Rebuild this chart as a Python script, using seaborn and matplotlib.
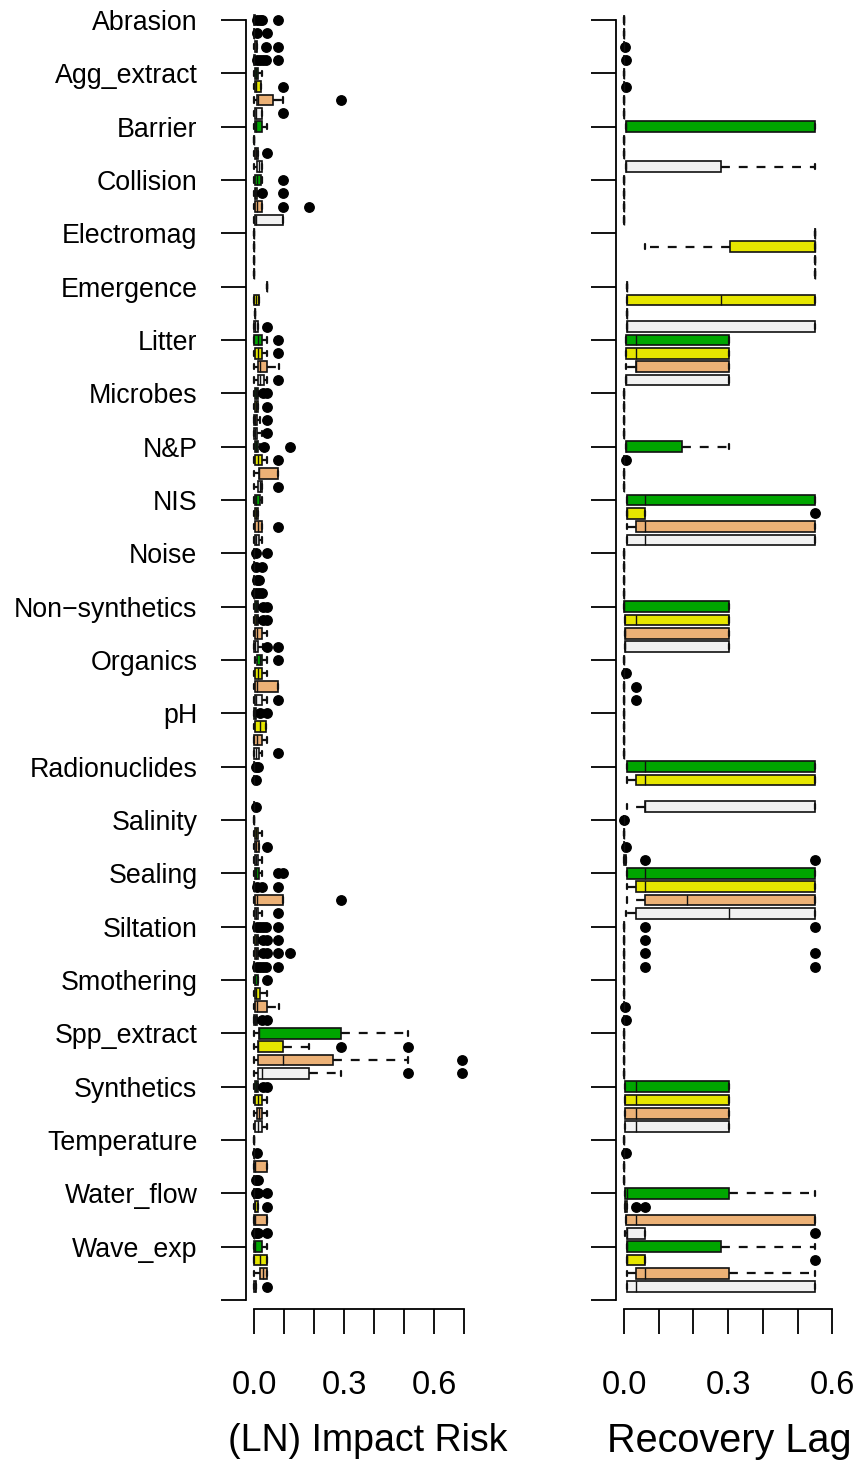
import numpy as np
import pandas as pd
import seaborn as sns
import matplotlib.pyplot as plt

# -------------------- data -------------------- #

categories = ["Abrasion", "Agg_extract", "Barrier", "Collision", "Electromag",
              "Emergence", "Litter", "Microbes", "N&P", "NIS", "Noise",
              "Non\u2212synthetics", "Organics", "pH", "Radionuclides", "Salinity",
              "Sealing", "Siltation", "Smothering", "Spp_extract", "Synthetics",
              "Temperature", "Water_flow", "Wave_exp"]
groups = ["Group 1", "Group 2", "Group 3", "Group 4"]
group_colors = ["#00A600", "#E6E600", "#ECB176", "#F2F2F2"]
risk_ticks = [0.0, 0.1, 0.2, 0.3, 0.4, 0.5, 0.6, 0.7]
lag_ticks = [0.0, 0.1, 0.2, 0.3, 0.4, 0.5, 0.6]

# (LN) Impact Risk: box summaries, 4 groups per category (None = no box)
risk_lo = [0, 0, 0, 0,  0, 0, 0, 0,  0, 0, 0, 0,  0, 0, 0, 0,
           0, 0, 0, 0,  0.042, 0, 0.004, 0,  0, 0, 0, 0,  0, 0, 0, 0,
           0, 0, 0, 0,  0, 0, 0, 0,  0, 0, 0, 0,  0, 0, 0, 0,
           0.003, 0, 0, 0,  0, 0, 0, 0,  0, 0, None, 0,  0, 0, 0, 0,
           0, 0, 0, 0,  0, 0, 0, 0,  0, 0, 0, 0,  0, 0, 0, 0,
           0, 0, 0, 0,  0, 0, 0, 0,  0, 0, 0, 0,  0, 0, 0, 0]
risk_q1 = [0, 0, 0.003, 0,  0.003, 0.004, 0.011, 0.004,  0.003, 0, 0.003, 0.011,  0.004, 0.003, 0.004, 0.004,
           0, 0, 0, 0,  0.042, 0, 0.004, 0,  0, 0.002, 0.013, 0.014,  0.002, 0.002, 0, 0,
           0.003, 0.003, 0.015, 0.013,  0.004, 0.004, 0.002, 0.004,  0, 0, 0, 0,  0.002, 0.002, 0.002, 0,
           0.011, 0.002, 0.003, 0.002,  0, 0.002, 0, 0,  0, 0, None, 0,  0, 0.004, 0.002, 0.002,
           0.002, 0, 0.002, 0.002,  0, 0.002, 0.002, 0,  0.002, 0.002, 0.004, 0,  0.016, 0.013, 0.013, 0.013,
           0.002, 0.002, 0.009, 0.004,  0, 0, 0, 0,  0, 0.002, 0, 0,  0, 0, 0.02, 0]
risk_med = [0, 0, 0.006, 0,  0.006, 0.008, 0.014, 0.006,  0.006, 0, 0.006, 0.015,  0.01, 0.004, 0.01, 0.007,
            0, 0, 0, 0,  0.042, 0.007, 0.004, 0.004,  0.012, 0.014, 0.02, 0.02,  0.006, 0.006, 0.004, 0.004,
            0.006, 0.014, 0.017, 0.02,  0.008, 0.007, 0.014, 0.008,  0, 0, 0, 0,  0.006, 0.006, 0.01, 0.004,
            0.02, 0.013, 0.009, 0.006,  0.002, 0.02, 0.01, 0.006,  0, 0, None, 0,  0, 0.008, 0.006, 0.006,
            0.007, 0, 0.011, 0.005,  0, 0.005, 0.005, 0,  0.004, 0.006, 0.009, 0.002,  0.018, 0.014, 0.097, 0.025,
            0.005, 0.014, 0.018, 0.014,  0, 0, 0.004, 0,  0, 0.004, 0.004, 0,  0.004, 0.02, 0.03, 0.002]
risk_q3 = [0.002, 0, 0.011, 0.002,  0.014, 0.022, 0.062, 0.027,  0.027, 0, 0.014, 0.027,  0.022, 0.009, 0.027, 0.097,
           0, 0, 0, 0,  0.042, 0.016, 0.004, 0.014,  0.025, 0.027, 0.042, 0.034,  0.012, 0.012, 0.011, 0.011,
           0.014, 0.027, 0.081, 0.027,  0.02, 0.014, 0.025, 0.015,  0, 0, 0, 0,  0.013, 0.013, 0.025, 0.013,
           0.025, 0.027, 0.081, 0.025,  0.007, 0.04, 0.028, 0.015,  0, 0, None, 0,  0, 0.014, 0.015, 0.014,
           0.015, 0, 0.097, 0.013,  0, 0.013, 0.013, 0,  0.013, 0.02, 0.042, 0.009,  0.288, 0.097, 0.263, 0.184,
           0.013, 0.027, 0.027, 0.027,  0, 0, 0.042, 0,  0, 0.013, 0.042, 0,  0.027, 0.042, 0.042, 0.008]
risk_hi = [0.004, 0, 0.011, 0.002,  0.025, 0.022, 0.097, 0.027,  0.044, 0, 0.014, 0.027,  0.025, 0.009, 0.027, 0.097,
           0, 0, 0, 0,  0.042, 0.016, 0.004, 0.014,  0.042, 0.042, 0.084, 0.044,  0.012, 0.012, 0.02, 0.025,
           0.02, 0.042, 0.081, 0.027,  0.028, 0.014, 0.025, 0.028,  0, 0, 0, 0,  0.013, 0.013, 0.042, 0.013,
           0.042, 0.042, 0.081, 0.042,  0.007, 0.04, 0.044, 0.028,  0, 0, None, 0,  0, 0.028, 0.015, 0.028,
           0.028, 0, 0.097, 0.028,  0, 0.013, 0.013, 0,  0.013, 0.042, 0.084, 0.009,  0.512, 0.184, 0.512, 0.289,
           0.013, 0.042, 0.042, 0.042,  0, 0, 0.042, 0,  0, 0.013, 0.042, 0,  0.042, 0.042, 0.042, 0.008]
risk_out = [[0.01, 0.02, 0.028, 0.081], [0.009, 0.042], [0.04, 0.081], [0.01, 0.02, 0.03, 0.04, 0.081],
            [], [0.097], [0.289], [0.097],
            [], [], [0.042], [],
            [0.097], [0.026, 0.097], [0.097, 0.184], [],
            [], [], [], [],
            [], [], [], [0.042],
            [0.081], [0.081], [], [0.081],
            [0.031, 0.044], [0.042], [0.042], [0.042],
            [0.034, 0.119], [0.081], [], [0.081],
            [], [], [0.081], [],
            [0.007, 0.042], [0.007, 0.027], [0.009, 0.015], [0.007, 0.015, 0.025],
            [0.031, 0.044], [0.031, 0.044], [], [0.031, 0.042, 0.081],
            [0.081], [], [], [0.081],
            [0.02, 0.042], [], [], [0.081],
            [0.005, 0.012], [0.008], [], [0.008],
            [], [], [0.042], [],
            [0.081, 0.097], [0.01, 0.025, 0.081], [0.289], [0.081],
            [0.01, 0.02, 0.03, 0.04, 0.081], [0.031, 0.044, 0.081], [0.031, 0.044, 0.081, 0.119], [0.01, 0.02, 0.03, 0.04, 0.081],
            [0.042], [], [], [0.027, 0.042],
            [], [0.289, 0.512], [0.691], [0.512, 0.691],
            [0.031, 0.044], [], [], [],
            [], [0.01], [], [0.005, 0.014],
            [0.005, 0.012, 0.042], [0.042], [], [0.005, 0.012, 0.042],
            [], [], [], [0.042]]

# Recovery Lag: box summaries
lag_lo = [0, 0, 0, 0,  0, 0, 0, 0,  0.006, 0, 0, 0.006,  0, 0, 0, 0,
          0.55, 0.06, 0.55, 0.55,  0.01, 0.01, 0.01, 0.01,  0.006, 0.006, 0.006, 0.006,  0, 0, 0, 0,
          0.006, 0, 0, 0,  0.01, 0.01, 0.01, 0.01,  0, 0, 0, 0,  0, 0.004, 0.004, 0.004,
          0, 0, 0, 0,  0, 0, 0, 0,  0.01, 0.01, None, 0.01,  0, 0, 0, 0,
          0.008, 0.01, 0.01, 0.006,  0, 0, 0, 0,  0, 0, 0, 0,  0, 0, 0, 0,
          0.002, 0.002, 0.004, 0.002,  0, 0, 0, 0,  0.004, 0.002, 0.006, 0.004,  0.01, 0.01, 0.01, 0.01]
lag_q1 = [0, 0, 0, 0,  0, 0, 0, 0,  0.006, 0, 0, 0.006,  0, 0, 0, 0,
          0.55, 0.305, 0.55, 0.55,  0.01, 0.01, 0.01, 0.01,  0.006, 0.006, 0.034, 0.006,  0, 0, 0, 0,
          0.006, 0, 0, 0,  0.01, 0.01, 0.035, 0.01,  0, 0, 0, 0,  0, 0.004, 0.004, 0.004,
          0, 0, 0, 0,  0, 0, 0, 0,  0.01, 0.035, None, 0.06,  0, 0, 0, 0,
          0.008, 0.035, 0.06, 0.035,  0, 0, 0, 0,  0, 0, 0, 0,  0, 0, 0, 0,
          0.002, 0.002, 0.004, 0.002,  0, 0, 0, 0,  0.004, 0.002, 0.006, 0.008,  0.01, 0.01, 0.035, 0.01]
lag_med = [0, 0, 0, 0,  0, 0, 0, 0,  0.006, 0, 0, 0.006,  0, 0, 0, 0,
           0.55, 0.55, 0.55, 0.55,  0.01, 0.279, 0.01, 0.01,  0.034, 0.034, 0.034, 0.006,  0, 0, 0, 0,
           0.006, 0, 0, 0,  0.06, 0.01, 0.06, 0.06,  0, 0, 0, 0,  0, 0.034, 0.004, 0.004,
           0, 0, 0, 0,  0, 0, 0, 0,  0.06, 0.06, None, 0.06,  0, 0, 0, 0.002,
           0.06, 0.06, 0.182, 0.303,  0, 0, 0, 0,  0, 0, 0, 0,  0, 0, 0, 0,
           0.034, 0.034, 0.034, 0.034,  0, 0, 0, 0,  0.01, 0.004, 0.035, 0.008,  0.01, 0.01, 0.06, 0.035]
lag_q3 = [0, 0, 0, 0,  0, 0, 0, 0,  0.55, 0, 0, 0.278,  0, 0, 0, 0,
          0.55, 0.55, 0.55, 0.55,  0.01, 0.55, 0.01, 0.55,  0.303, 0.303, 0.303, 0.303,  0, 0, 0, 0,
          0.168, 0, 0, 0,  0.55, 0.06, 0.55, 0.55,  0, 0, 0, 0,  0.303, 0.303, 0.303, 0.303,
          0, 0, 0, 0,  0, 0, 0, 0,  0.55, 0.55, None, 0.55,  0, 0, 0, 0.006,
          0.55, 0.55, 0.55, 0.55,  0, 0, 0, 0,  0, 0, 0, 0,  0, 0, 0, 0,
          0.303, 0.303, 0.303, 0.303,  0, 0, 0, 0,  0.303, 0.01, 0.55, 0.06,  0.278, 0.06, 0.303, 0.55]
lag_hi = [0, 0, 0, 0,  0, 0, 0, 0,  0.55, 0, 0, 0.55,  0, 0, 0, 0,
          0.55, 0.55, 0.55, 0.55,  0.01, 0.55, 0.01, 0.55,  0.303, 0.303, 0.303, 0.303,  0, 0, 0, 0,
          0.303, 0, 0, 0,  0.55, 0.06, 0.55, 0.55,  0, 0, 0, 0,  0.303, 0.303, 0.303, 0.303,
          0, 0, 0, 0,  0, 0, 0, 0,  0.55, 0.55, None, 0.55,  0, 0, 0, 0.006,
          0.55, 0.55, 0.55, 0.55,  0, 0, 0, 0,  0, 0, 0, 0,  0, 0, 0, 0,
          0.303, 0.303, 0.303, 0.303,  0, 0, 0, 0,  0.55, 0.01, 0.55, 0.06,  0.55, 0.06, 0.55, 0.55]
lag_out = [[], [], [0.003], [0.006],
           [], [0.006], [], [],
           [], [], [], [],
           [], [], [], [],
           [], [], [], [],
           [], [], [], [],
           [], [], [], [],
           [], [], [], [],
           [], [0.006], [], [],
           [], [0.55], [], [],
           [], [], [], [],
           [], [], [], [],
           [], [0.006], [0.034], [0.034],
           [], [], [], [],
           [], [], [], [],
           [0.001], [], [0.006], [0.06, 0.55],
           [], [], [], [],
           [0.06, 0.55], [0.06], [0.06, 0.55], [0.06, 0.55],
           [], [], [0.003], [0.006],
           [], [], [], [],
           [], [], [], [],
           [], [0.006], [], [],
           [], [0.034, 0.06], [], [0.55],
           [], [0.55], [], []]


# -------------------- helpers -------------------- #

def box_table(lo, q1, med, q3, hi, out, n_rep=20):
    """Long table whose quartiles / whiskers / outliers reproduce the summaries."""
    records = []
    for i in range(len(lo)):
        if lo[i] is None:
            continue
        vals = [lo[i]] + [q1[i]] * n_rep + [med[i]] * n_rep + [q3[i]] * n_rep + [hi[i]] + list(out[i])
        for v in vals:
            records.append({"row": float(i), "group": groups[i % 4], "value": v})
    return pd.DataFrame(records)


def panel(ax, table, ticks, xlim, xlabel, label_x, label_size, show_labels):
    sns.boxplot(data=table, x="value", y="row", hue="group", hue_order=groups,
                palette=dict(zip(groups, group_colors)), orient="y",
                native_scale=True, dodge=False, width=0.8, saturation=1,
                whis=1.5, linecolor="#111111", linewidth=1.2, legend=False, ax=ax,
                whiskerprops={"linestyle": (0, (4, 4)), "linewidth": 1.6},
                capprops={"linewidth": 1.6},
                medianprops={"linewidth": 1.0},
                flierprops={"marker": "o", "markerfacecolor": "black",
                            "markeredgecolor": "black", "markersize": 6.8})

    n_rows = len(categories) * 4
    ax.set_ylim(n_rows + 0.675, -0.75)
    ax.set_xlim(*xlim)

    ax.spines[["top", "right"]].set_visible(False)
    ax.spines["left"].set_bounds(0, n_rows)
    ax.spines["bottom"].set_bounds(ticks[0], ticks[-1])
    for s in ("left", "bottom"):
        ax.spines[s].set_linewidth(1.3)
        ax.spines[s].set_color("black")

    ax.set_yticks(np.arange(0, n_rows + 1, 4))
    ax.set_yticklabels(categories + [""] if show_labels else [""] * (len(categories) + 1))
    ax.set_xticks(ticks)
    ax.set_xticklabels([f"{t:.1f}" if k % 3 == 0 else "" for k, t in enumerate(ticks)])

    ax.tick_params(axis="both", direction="out", length=18, width=1.3,
                   color="black", labelcolor="black")
    ax.tick_params(axis="y", pad=17, labelsize=19.3)
    ax.tick_params(axis="x", pad=26, labelsize=23.5)

    ax.set_ylabel("")
    ax.set_xlabel(xlabel, fontsize=label_size, color="black")
    ax.xaxis.set_label_coords(label_x, -0.1015)
    ax.xaxis.label.set_va("center")


# -------------------- figure -------------------- #

sns.set_style("ticks")
plt.rcParams["font.family"] = ["Liberation Sans", "DejaVu Sans"]
plt.rcParams["text.color"] = "black"

W, H = 861, 1467
fig = plt.figure(figsize=(W / 100, H / 100), dpi=100)
ax_risk = fig.add_axes([246 / W, 1 - 1309 / H, 224 / W, 1299 / H])
ax_lag = fig.add_axes([616 / W, 1 - 1309 / H, 224 / W, 1299 / H])

risk_table = box_table(risk_lo, risk_q1, risk_med, risk_q3, risk_hi, risk_out)
lag_table = box_table(lag_lo, lag_q1, lag_med, lag_q3, lag_hi, lag_out)

panel(ax_risk, risk_table, risk_ticks, (-8 / 300.5, 216 / 300.5),
      "(LN) Impact Risk", 0.545, 27, True)
panel(ax_lag, lag_table, lag_ticks, (-8 / 347.2, 216 / 347.2),
      "Recovery Lag", 0.505, 28.5, False)

fig.savefig("out.png", dpi=100)
